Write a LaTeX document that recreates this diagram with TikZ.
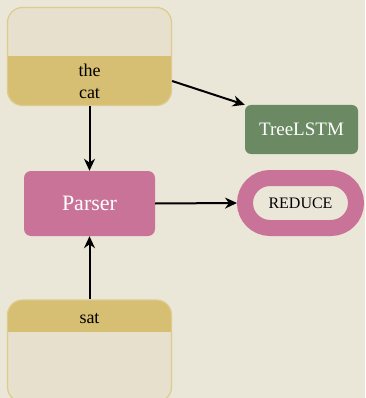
\documentclass[tikz,border=0pt]{standalone}
\usepackage{fontspec}
\setmainfont{Liberation Serif}
\usetikzlibrary{arrows.meta,shapes.misc}
\definecolor{paper}{RGB}{235,231,216}
\definecolor{slot}{RGB}{230,224,205}
\definecolor{gold}{RGB}{214,191,114}
\definecolor{goldline}{RGB}{221,204,142}
\definecolor{rose}{RGB}{201,115,153}
\definecolor{moss}{RGB}{107,138,99}

\begin{document}
\begin{tikzpicture}[x=1pt,y=-1pt,>={Stealth[length=12pt,width=11pt]},
  stackbox/.style={draw=goldline,line width=1.2pt,fill=slot,rounded corners=15pt,
    minimum width=164pt,inner sep=0pt},
  word/.style={font=\fontsize{18}{22}\selectfont,align=center,inner sep=0pt},
  modbox/.style={fill=#1,rounded corners=7pt,text=white,inner sep=0pt},
  link/.style={->,line width=2pt}]
\fill[paper] (0,0) rectangle (365,398);
\useasboundingbox (0,0) rectangle (365,398);
% stack and buffer
\node[stackbox,minimum height=98pt,
  path picture={\fill[gold,sharp corners] (path picture bounding box.west) rectangle (path picture bounding box.south east);}]
  (stack) at (89.5,56.5) {};
\node[word] (thecat) at (89.5,81) {the\\cat};
\node[stackbox,minimum height=102pt,
  path picture={\fill[gold,sharp corners] (path picture bounding box.north west) rectangle ([yshift=-32pt]path picture bounding box.north east);}]
  (buffer) at (89.5,351) {};
\node[word,anchor=base] (sat) at (89.5,323) {sat};
% modules
\node[modbox=rose,minimum width=131pt,minimum height=65pt,font=\fontsize{22}{26}\selectfont]
  (parser) at (89.5,203.5) {Parser};
\node[modbox=moss,minimum width=113pt,minimum height=49pt,rounded corners=6pt,font=\fontsize{19}{23}\selectfont]
  (tree) at (301.5,129.5) {TreeLSTM};
\node[rounded rectangle,draw=rose,line width=16pt,fill=paper,minimum width=111pt,minimum height=50pt,
  inner sep=0pt,font=\fontsize{16}{19}\selectfont] (reduce) at (300.5,203) {REDUCE};
% arrows
\draw[link] (stack.south) -- (parser.north);
\draw[link] (buffer.north) -- (parser.south);
\draw[link] (parser.east) -- (reduce.west);
\draw[link] (stack.east |- thecat) -- (tree.north west);
\end{tikzpicture}
\end{document}
